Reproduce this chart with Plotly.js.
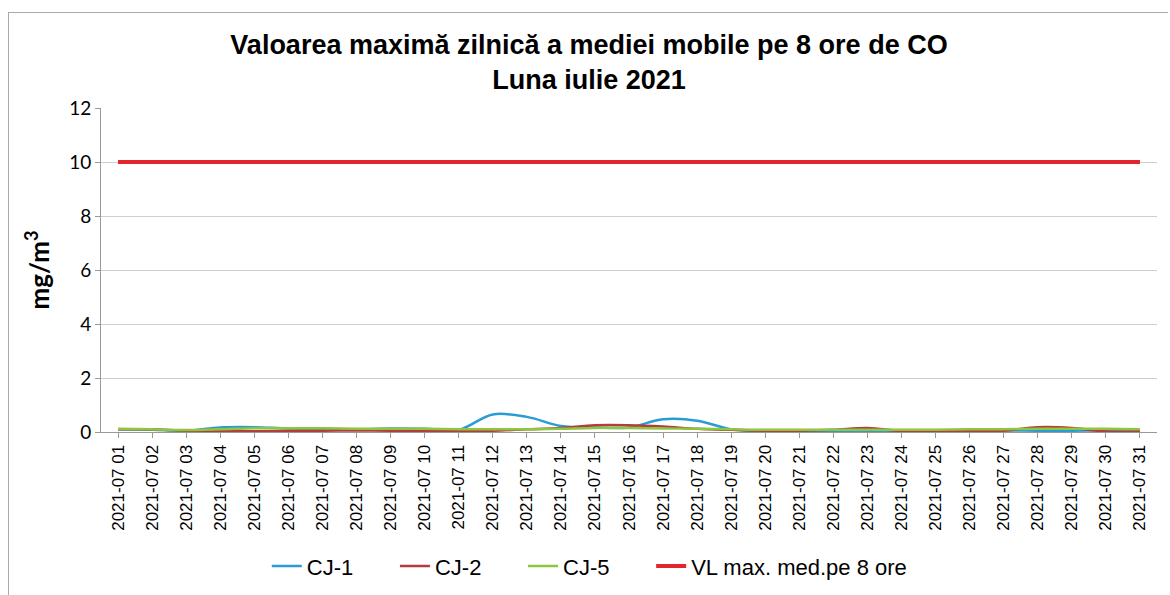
<!DOCTYPE html>
<html>
<head>
<meta charset="utf-8">
<script src="https://cdn.plot.ly/plotly-3.0.1.min.js"></script>
<style>
  html, body { margin: 0; padding: 0; background: #fff; }
  #chart { position: absolute; left: 8px; top: 12px; width: 1160px; height: 590px; border-left: 1px solid #aaa; border-top: 1px solid #aaa; box-sizing: border-box; }
</style>
</head>
<body>
<div id="chart"></div>
<script>
const days = [];
for (let d = 1; d <= 31; d++) days.push('2021-07 ' + String(d).padStart(2, '0'));

const seriesNames = ['CJ-1', 'CJ-2', 'CJ-5', 'VL max. med.pe 8 ore'];

const cj1 = [0.10, 0.08, 0.05, 0.17, 0.18, 0.13, 0.12, 0.10, 0.13, 0.12, 0.08, 0.65, 0.56, 0.22, 0.17, 0.17,
             0.47, 0.42, 0.10, 0.03, 0.02, 0.03, 0.03, 0.03, 0.04, 0.07, 0.06, 0.05, 0.05, 0.06, 0.05];
const cj2 = [0.10, 0.10, 0.05, 0.05, 0.03, 0.05, 0.05, 0.06, 0.05, 0.05, 0.05, 0.05, 0.10, 0.15, 0.25, 0.25,
             0.20, 0.12, 0.08, 0.05, 0.05, 0.08, 0.15, 0.03, 0.03, 0.05, 0.05, 0.18, 0.15, 0.02, 0.03];
const cj5 = [0.12, 0.10, 0.07, 0.10, 0.14, 0.14, 0.14, 0.12, 0.12, 0.12, 0.10, 0.10, 0.10, 0.12, 0.15, 0.15,
             0.13, 0.12, 0.10, 0.08, 0.08, 0.08, 0.08, 0.08, 0.08, 0.10, 0.10, 0.12, 0.12, 0.12, 0.10];
const limit = days.map(() => 10);

const font = 'Liberation Sans, Arial, sans-serif';
const calib = 'Lato, Liberation Sans, sans-serif';
// wider gaps between the legend entries, like the original
const pad = '\u00a0'.repeat(6);

const traces = [
  { x: days, y: cj1, name: seriesNames[0] + pad, type: 'scatter', mode: 'lines', line: { color: '#2b9bd6', width: 2.5, shape: 'spline' } },
  { x: days, y: cj2, name: seriesNames[1] + pad, type: 'scatter', mode: 'lines', line: { color: '#b43c3c', width: 2.5, shape: 'spline' } },
  { x: days, y: cj5, name: seriesNames[2] + pad, type: 'scatter', mode: 'lines', line: { color: '#8dc63f', width: 2.5, shape: 'spline' } },
  { x: days, y: limit, name: seriesNames[3], type: 'scatter', mode: 'lines', line: { color: '#e3262d', width: 4 } }
];

const layout = {
  width: 1160, height: 583,
  margin: { l: 92, r: 12, t: 95, b: 164 },
  paper_bgcolor: '#fff', plot_bgcolor: '#fff',
  font: { family: font, color: '#000' },
  title: {
    text: '<b>Valoarea maximă zilnică a mediei mobile pe 8 ore de CO<br>Luna iulie 2021</b>',
    font: { size: 27, family: font }, x: 0.5, xanchor: 'center', y: 0.93, yanchor: 'top'
  },
  xaxis: {
    type: 'category', tickangle: -90, tickfont: { size: 17 }, automargin: false,
    showline: true, linecolor: '#999', ticks: 'outside', ticklen: 5, tickcolor: '#999',
    showgrid: false, range: [-0.5, 30.5]
  },
  yaxis: {
    title: { text: '<b>mg/m<sup>3</sup></b>', font: { size: 26, family: calib }, standoff: 12 },
    range: [0, 12], dtick: 2, tickfont: { size: 19, family: calib }, automargin: false,
    showline: true, linecolor: '#999', ticks: 'outside', ticklen: 5, tickcolor: '#999',
    gridcolor: '#cfcfcf', zeroline: false
  },
  legend: {
    orientation: 'h', x: 0.157, xanchor: 'left', yref: 'container', y: 0.051, yanchor: 'middle',
    font: { size: 22 }
  },
  showlegend: true
};

Plotly.newPlot('chart', traces, layout, { displayModeBar: false, staticPlot: true });
</script>
</body>
</html>
